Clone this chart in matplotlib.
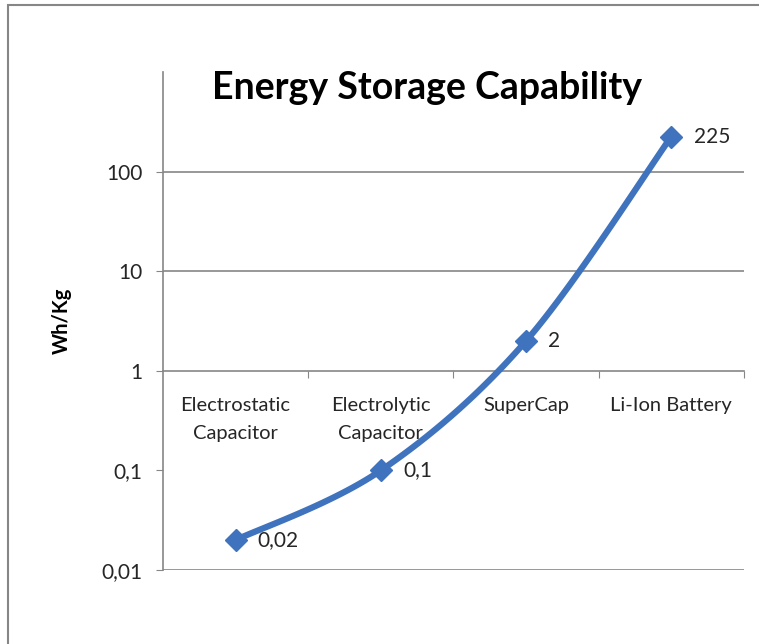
import matplotlib
matplotlib.use('Agg')
import matplotlib.pyplot as plt
from matplotlib.patches import Rectangle
import numpy as np

# chart data
categories = ['Electrostatic\nCapacitor', 'Electrolytic\nCapacitor', 'SuperCap', 'Li-Ion Battery']
energy = [0.02, 0.1, 2, 225]
value_labels = ['0,02', '0,1', '2', '225']
ytick_vals = [0.01, 0.1, 1, 10, 100]
ytick_labels = ['0,01', '0,1', '1', '10', '100']
grid_vals = [0.01, 10, 100]

blue = '#3F73BD'
grey = '#868686'
txt = '#262626'

plt.rcParams['font.family'] = ['Lato', 'DejaVu Sans']


def smooth(xs, ys, n=40):
	# Catmull-Rom style smoothing like Excel's smoothed line, done in log space
	px = np.asarray(xs, float)
	py = np.log10(np.asarray(ys, float))
	P = np.column_stack([px, py])
	P = np.vstack([P[0], P, P[-1]])
	out = []
	for i in range(1, len(P) - 2):
		p0, p1, p2, p3 = P[i - 1], P[i], P[i + 1], P[i + 2]
		c1 = p1 + (p2 - p0) / 6.0
		c2 = p2 - (p3 - p1) / 6.0
		t = np.linspace(0, 1, n)[:, None]
		seg = (1 - t)**3 * p1 + 3 * (1 - t)**2 * t * c1 + 3 * (1 - t) * t**2 * c2 + t**3 * p2
		out.append(seg)
	out = np.vstack(out)
	return out[:, 0], 10 ** out[:, 1]


fig = plt.figure(figsize=(7.59, 6.44), dpi=100)
ax = fig.add_axes([163 / 759, 1 - 570 / 644, 581 / 759, 498 / 644])

x = np.arange(len(categories))
sx, sy = smooth(x, energy)
ax.plot(sx, sy, color=blue, lw=4.5, solid_capstyle='round', zorder=3)
ax.plot(x, energy, ls='none', marker='D', ms=11, color=blue, zorder=4)

for xi, v, lab in zip(x, energy, value_labels):
	ax.annotate(lab, (xi, v), xytext=(16, 0), textcoords='offset points',
		va='center', ha='left', fontsize=15, color=txt)

ax.set_yscale('log')
ax.set_ylim(0.01, 1000)
ax.set_xlim(-0.5, 3.5)

for g in grid_vals:
	ax.axhline(g, color=grey, lw=1.2, zorder=1)

ax.set_yticks(ytick_vals)
ax.set_yticklabels(ytick_labels)
ax.yaxis.set_minor_locator(matplotlib.ticker.NullLocator())
ax.tick_params(axis='y', direction='out', length=5, color=grey, labelsize=15, labelcolor=txt, pad=10)

ax.spines['bottom'].set_position(('data', 1))
ax.spines['top'].set_visible(False)
ax.spines['right'].set_visible(False)
for s in ['bottom', 'left']:
	ax.spines[s].set_color(grey)
	ax.spines[s].set_linewidth(1.2)

ax.set_xticks([0.5, 1.5, 2.5, 3.5])
ax.set_xticklabels([])
ax.set_xticks(x, minor=True)
ax.set_xticklabels(categories, minor=True, linespacing=1.75)
ax.tick_params(axis='x', which='major', direction='out', length=5, color=grey)
ax.tick_params(axis='x', which='minor', length=0, pad=19, labelsize=14.5, labelcolor=txt)

fig.text(427 / 759, 1 - 88 / 644, 'Energy Storage Capability', ha='center', va='center',
	fontsize=27, fontweight='bold', color='black')
fig.text(62 / 759, 1 - 321 / 644, 'Wh/Kg', rotation=90, ha='center', va='center',
	fontsize=14.5, fontweight='bold', color='black')

# outer chart frame
fig.patches.append(Rectangle((8 / 759, -0.2), 1.2, 1.2 + (1 - 5 / 644) - 1.0,
	transform=fig.transFigure, fill=False, edgecolor=grey, lw=1.5))

fig.savefig('out.png', dpi=100)
